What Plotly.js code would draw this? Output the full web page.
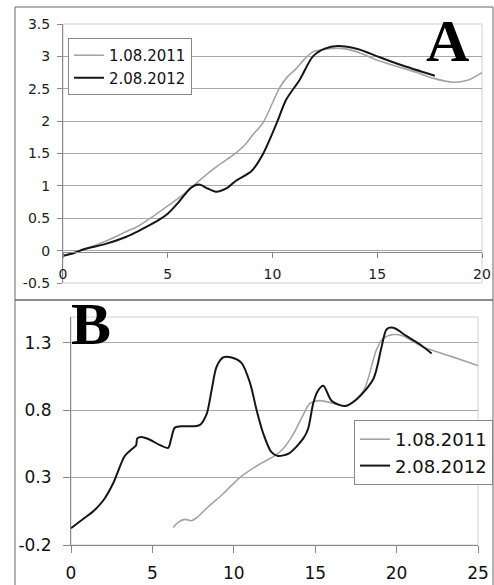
<!DOCTYPE html>
<html>
<head>
<meta charset="utf-8">
<script src="https://cdn.plot.ly/plotly-3.0.1.min.js"></script>
<style>
html,body{margin:0;padding:0;background:#fff;}
#chart{width:494px;height:585px;}
</style>
</head>
<body>
<div id="chart"></div>
<script>
// ---- Panel A data ----
const seriesNames = ['1.08.2011', '2.08.2012'];

const a2011X = [0, 0.5, 1, 2, 3, 3.6, 4.3, 5, 5.8, 6.5, 7.3, 8.1, 8.7, 9.06, 9.54, 10.33, 10.7, 11.1, 11.5, 11.93, 12.3, 12.7, 13.4, 14.2, 15, 16, 16.9, 17.7, 18.6, 19.3, 20];
const a2011Y = [-0.08, -0.03, 0.02, 0.14, 0.29, 0.38, 0.53, 0.69, 0.88, 1.08, 1.29, 1.47, 1.64, 1.79, 1.97, 2.51, 2.68, 2.8, 2.95, 3.07, 3.1, 3.12, 3.12, 3.05, 2.94, 2.84, 2.75, 2.66, 2.6, 2.63, 2.75];

const a2012X = [0, 0.5, 1, 2, 3, 3.6, 4.0, 4.5, 5, 5.5, 5.8, 6.1, 6.5, 6.9, 7.3, 7.8, 8.26, 9.0, 9.54, 10.2, 10.65, 11.3, 11.93, 12.5, 13.1, 14.1, 15, 16.1, 17.75];
const a2012Y = [-0.08, -0.04, 0.02, 0.1, 0.21, 0.3, 0.37, 0.46, 0.57, 0.74, 0.86, 0.97, 1.02, 0.96, 0.91, 0.96, 1.08, 1.23, 1.49, 1.97, 2.33, 2.64, 3.0, 3.12, 3.16, 3.11, 3.0, 2.87, 2.7];

// ---- Panel B data ----
const b2011X = [6.28, 6.6, 7.0, 7.4, 7.7, 8.4, 9.35, 10.37, 11.6, 12.5, 13.0, 13.65, 14.2, 14.68, 15.3, 16.1, 16.9, 17.95, 18.77, 19.17, 19.8, 20.4, 21.6, 23.3, 25];
const b2011Y = [-0.07, -0.03, -0.01, -0.02, 0.0, 0.08, 0.18, 0.3, 0.4, 0.46, 0.51, 0.62, 0.75, 0.85, 0.87, 0.85, 0.83, 0.94, 1.25, 1.33, 1.36, 1.35, 1.27, 1.2, 1.13];

const b2012X = [0, 0.6, 1.37, 1.98, 2.6, 3.3, 3.73, 4.0, 4.07, 4.33, 4.85, 5.47, 5.97, 6.14, 6.38, 6.9, 7.5, 7.92, 8.33, 8.64, 8.94, 9.35, 9.86, 10.47, 11.0, 11.4, 11.8, 12.3, 12.7, 13.4, 14.27, 14.56, 14.88, 15.15, 15.5, 16.0, 16.83, 17.55, 18.57, 19.08, 19.39, 19.8, 20.6, 21.4, 22.15];
const b2012Y = [-0.075, -0.02, 0.05, 0.13, 0.26, 0.46, 0.51, 0.54, 0.59, 0.6, 0.58, 0.54, 0.52, 0.58, 0.67, 0.68, 0.68, 0.69, 0.77, 0.95, 1.12, 1.19, 1.19, 1.15, 1.0, 0.8, 0.63, 0.49, 0.46, 0.48, 0.59, 0.66, 0.85, 0.94, 0.98, 0.87, 0.83, 0.88, 1.03, 1.27, 1.40, 1.41, 1.35, 1.29, 1.22];

const aXTicks = [0, 5, 10, 15, 20];
const aYTicks = [-0.5, 0, 0.5, 1, 1.5, 2, 2.5, 3, 3.5];
const bXTicks = [0, 5, 10, 15, 20, 25];
const bYTicks = [-0.2, 0.3, 0.8, 1.3];

const W = 494, H = 585;
const px = v => v / W;
const py = v => (H - v) / H;

const grayC = '#a3a3a3', blackC = '#161616';
const tickFont = 'DejaVu Sans, Arial, sans-serif';

const traces = [
  {x: a2011X, y: a2011Y, xaxis: 'x', yaxis: 'y', name: seriesNames[0], mode: 'lines',
   line: {color: grayC, width: 1.6, shape: 'spline', smoothing: 0.8}, legend: 'legend'},
  {x: a2012X, y: a2012Y, xaxis: 'x', yaxis: 'y', name: seriesNames[1], mode: 'lines',
   line: {color: blackC, width: 2, shape: 'spline', smoothing: 0.8}, legend: 'legend'},
  {x: b2011X, y: b2011Y, xaxis: 'x2', yaxis: 'y2', name: seriesNames[0], mode: 'lines',
   line: {color: grayC, width: 1.6, shape: 'spline', smoothing: 0.8}, legend: 'legend2'},
  {x: b2012X, y: b2012Y, xaxis: 'x2', yaxis: 'y2', name: seriesNames[1], mode: 'lines',
   line: {color: blackC, width: 2, shape: 'spline', smoothing: 0.8}, legend: 'legend2'}
];

const layout = {
  width: W, height: H,
  margin: {l: 0, r: 0, t: 0, b: 0},
  paper_bgcolor: '#fff', plot_bgcolor: '#fff',
  showlegend: true,
  xaxis: {
    domain: [px(63), px(482)], range: [0, 20], anchor: 'free', position: py(252),
    tickvals: aXTicks, ticks: 'outside', ticklen: 5, tickcolor: '#888',
    showline: true, linecolor: '#888', linewidth: 1, showgrid: false, zeroline: false,
    ticklabelstandoff: 4,
    tickfont: {family: tickFont, size: 14, color: '#222'}
  },
  yaxis: {
    domain: [py(283), py(24)], range: [-0.5, 3.5], anchor: 'x',
    tickvals: aYTicks, ticktext: aYTicks.map(String), ticks: 'outside', ticklen: 5, tickcolor: '#888',
    showline: true, linecolor: '#888', linewidth: 1, showgrid: true, gridcolor: '#a8a8a8', gridwidth: 1,
    zeroline: false, ticklabelstandoff: 4, tickfont: {family: tickFont, size: 14, color: '#222'}
  },
  xaxis2: {
    domain: [px(71), px(478)], range: [0, 25], anchor: 'y2',
    tickvals: bXTicks, ticks: 'outside', ticklen: 7, tickcolor: '#888',
    showline: true, linecolor: '#888', linewidth: 1, showgrid: false, zeroline: false,
    ticklabelstandoff: 6,
    tickfont: {family: tickFont, size: 17, color: '#111'}
  },
  yaxis2: {
    domain: [py(545), py(317)], range: [-0.2, 1.49], anchor: 'x2',
    tickvals: bYTicks, ticktext: bYTicks.map(String), ticks: 'outside', ticklen: 7, tickcolor: '#888',
    showline: true, linecolor: '#888', linewidth: 1, showgrid: true, gridcolor: '#a8a8a8', gridwidth: 1,
    zeroline: false, ticklabelstandoff: 8,
    tickfont: {family: tickFont, size: 17, color: '#111'}
  },
  legend: {
    x: px(68), y: py(38), xanchor: 'left', yanchor: 'top', xref: 'paper', yref: 'paper',
    bgcolor: '#fff', bordercolor: '#888', borderwidth: 1,
    font: {family: tickFont, size: 15, color: '#111'},
    tracegroupgap: 0, itemwidth: 30
  },
  legend2: {
    x: px(354), y: py(420), xanchor: 'left', yanchor: 'top', xref: 'paper', yref: 'paper',
    bgcolor: '#fff', bordercolor: '#888', borderwidth: 1,
    font: {family: tickFont, size: 18, color: '#111'},
    tracegroupgap: 0, itemwidth: 30
  },
  shapes: [
    // panel borders
    {type: 'rect', xref: 'paper', yref: 'paper', x0: px(15), x1: px(493), y0: py(300), y1: py(7),
     line: {color: '#666', width: 1}, layer: 'below'},
    {type: 'rect', xref: 'paper', yref: 'paper', x0: px(15), x1: px(493), y0: py(590), y1: py(300),
     line: {color: '#666', width: 1}, layer: 'below'},
    // plot-area frames
    {type: 'rect', xref: 'paper', yref: 'paper', x0: px(63), x1: px(482), y0: py(283), y1: py(24),
     line: {color: '#d0d0d0', width: 1}, layer: 'below'},
    {type: 'rect', xref: 'paper', yref: 'paper', x0: px(71), x1: px(478), y0: py(545), y1: py(317),
     line: {color: '#d0d0d0', width: 1}, layer: 'below'}
  ],
  annotations: [
    {text: '<b>A</b>', xref: 'paper', yref: 'paper', x: px(447), y: py(41), xanchor: 'center', yanchor: 'middle',
     showarrow: false, font: {family: 'Liberation Serif, Times New Roman, serif', size: 60, color: '#000'}},
    {text: '<b>B</b>', xref: 'paper', yref: 'paper', x: px(91), y: py(324), xanchor: 'center', yanchor: 'middle',
     showarrow: false, font: {family: 'Liberation Serif, Times New Roman, serif', size: 60, color: '#000'}}
  ]
};

Plotly.newPlot('chart', traces, layout, {displayModeBar: false, staticPlot: true});
</script>
</body>
</html>
